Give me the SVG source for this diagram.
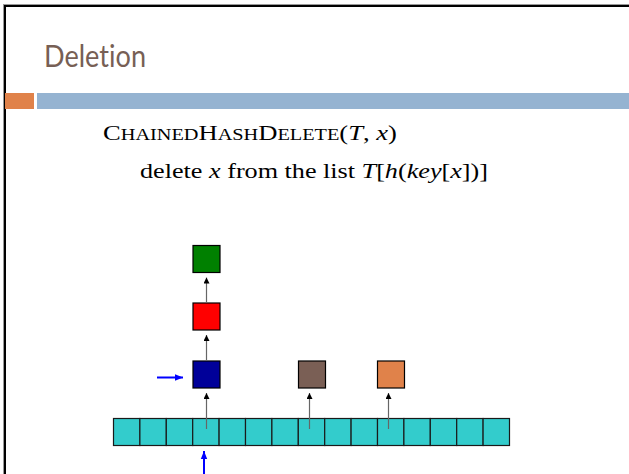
<svg xmlns="http://www.w3.org/2000/svg" width="629" height="474" viewBox="0 0 629 474">
  <defs>
    <style>
      .title { font-family: "Lato", "Open Sans", sans-serif; font-size: 30px; fill: #775f55; font-variant-ligatures: none; }
      .tex { font-family: "Liberation Serif", "DejaVu Serif", serif; fill: #000; }
      .it { font-style: italic; }
      .node { stroke: #000; stroke-width: 1.2; }
      .cell { fill: #33cccc; stroke: #1a1a1a; stroke-width: 1.2; }
      .ptr { stroke: #666; stroke-width: 1.2; fill: none; marker-end: url(#head); }
      .cur { stroke: #0000ff; stroke-width: 2; fill: none; marker-end: url(#bluehead); }
    </style>
    <marker id="head" viewBox="0 0 10 10" refX="10" refY="5" markerWidth="6" markerHeight="6" markerUnits="userSpaceOnUse" orient="auto">
      <path d="M0,0 L10,5 L0,10 z" fill="#000"/>
    </marker>
    <marker id="bluehead" viewBox="0 0 10 10" refX="10" refY="5" markerWidth="8" markerHeight="8" markerUnits="userSpaceOnUse" orient="auto">
      <path d="M0,1 L10,5 L0,9 z" fill="#0000ff"/>
    </marker>
  </defs>

  <rect width="629" height="474" fill="#fff"/>

  <!-- slide frame -->
  <rect x="3.5" y="4.5" width="700" height="600" fill="none" stroke="#999" stroke-width="1"/>
  <rect x="5" y="6" width="700" height="600" fill="none" stroke="#000" stroke-width="2"/>

  <!-- title and header bars -->
  <text class="title" x="44" y="67" textLength="102" lengthAdjust="spacingAndGlyphs">Deletion</text>
  <rect x="5" y="93" width="29" height="16" fill="#e0824a"/>
  <rect x="37" y="93" width="592" height="16" fill="#95b3d1"/>

  <!-- pseudocode -->
  <text class="tex" x="103" y="140" font-size="21" textLength="294" lengthAdjust="spacingAndGlyphs">C<tspan font-size="16">HAINED</tspan>H<tspan font-size="16">ASH</tspan>D<tspan font-size="16">ELETE</tspan>(<tspan class="it">T</tspan>, <tspan class="it">x</tspan>)</text>
  <text class="tex" x="140" y="178" font-size="21" textLength="348" lengthAdjust="spacingAndGlyphs">delete <tspan class="it">x</tspan> from the list <tspan class="it">T</tspan>[<tspan class="it">h</tspan>(<tspan class="it">key</tspan>[<tspan class="it">x</tspan>])]</text>

  <!-- hash table slots -->
  <g id="table">
    <rect class="cell" x="113.5" y="418.5" width="26.4" height="27"/>
    <rect class="cell" x="139.9" y="418.5" width="26.4" height="27"/>
    <rect class="cell" x="166.3" y="418.5" width="26.4" height="27"/>
    <rect class="cell" x="192.7" y="418.5" width="26.4" height="27"/>
    <rect class="cell" x="219.1" y="418.5" width="26.4" height="27"/>
    <rect class="cell" x="245.5" y="418.5" width="26.4" height="27"/>
    <rect class="cell" x="271.9" y="418.5" width="26.4" height="27"/>
    <rect class="cell" x="298.3" y="418.5" width="26.4" height="27"/>
    <rect class="cell" x="324.7" y="418.5" width="26.4" height="27"/>
    <rect class="cell" x="351.1" y="418.5" width="26.4" height="27"/>
    <rect class="cell" x="377.5" y="418.5" width="26.4" height="27"/>
    <rect class="cell" x="403.9" y="418.5" width="26.4" height="27"/>
    <rect class="cell" x="430.3" y="418.5" width="26.4" height="27"/>
    <rect class="cell" x="456.7" y="418.5" width="26.4" height="27"/>
    <rect class="cell" x="483.1" y="418.5" width="26.4" height="27"/>
  </g>

  <!-- list elements -->
  <g id="green-node"><rect class="node" x="193" y="245.5" width="27" height="27" fill="#008000"/></g>
  <g id="red-node"><rect class="node" x="193" y="303" width="27" height="27" fill="#ff0000"/></g>
  <g id="blue-node"><rect class="node" x="193" y="361" width="27" height="27" fill="#000099"/></g>
  <g id="brown-node"><rect class="node" x="298.5" y="361" width="27" height="27" fill="#7a5f55"/></g>
  <g id="orange-node"><rect class="node" x="377.5" y="361" width="27" height="27" fill="#e0824a"/></g>

  <!-- pointers -->
  <g id="connectors">
    <line class="ptr" x1="206.5" y1="429" x2="206.5" y2="393"/>
    <line class="ptr" x1="206.5" y1="361" x2="206.5" y2="335"/>
    <line class="ptr" x1="206.5" y1="303" x2="206.5" y2="277.5"/>
    <line class="ptr" x1="309.5" y1="429" x2="309.5" y2="393"/>
    <line class="ptr" x1="388.5" y1="429" x2="388.5" y2="393"/>
    <line class="cur" x1="157" y1="377.5" x2="183" y2="377.5"/>
    <line class="cur" x1="204" y1="474" x2="204" y2="451"/>
  </g>
</svg>
